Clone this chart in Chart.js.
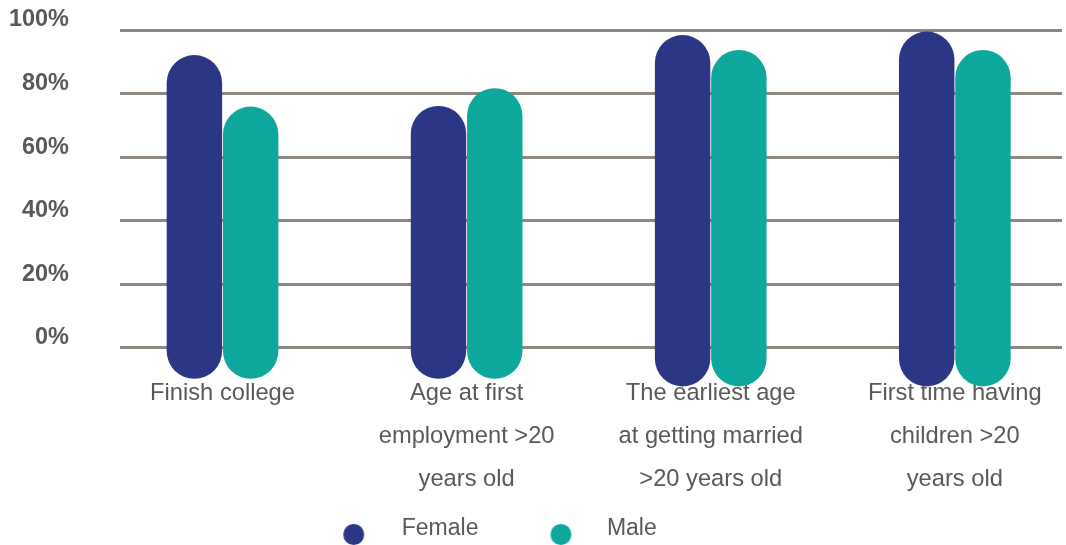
<!DOCTYPE html>
<html>
<head>
<meta charset="utf-8">
<script src="https://cdn.jsdelivr.net/npm/chart.js@4.4.1/dist/chart.umd.min.js"></script>
<style>
    html, body { margin: 0; padding: 0; background: #fff; overflow: hidden; }
    body { width: 1066px; height: 545px; position: relative; }
    /* canvas is wider than the window so the centered legend lands where it should */
    #wrap { position: absolute; left: -122px; top: 0; width: 1188px; height: 550px; }
</style>
</head>
<body>
<div id="wrap"><canvas id="chart"></canvas></div>
<script>
// Datos
const categories = [
    ['Finish college'],
    ['Age at first', 'employment >20', 'years old'],
    ['The earliest age', 'at getting married', '>20 years old'],
    ['First time having', 'children >20', 'years old']
];
const femaleTop = [92.1, 76.1, 98.4, 99.5];
const maleTop = [75.9, 81.7, 93.7, 93.7];
// the rounded bars start a bit below the 0% line
const barBase = [-9.8, -9.8, -12.2, -12.2];
const yTickValues = [0, 20, 40, 60, 80, 100];
const seriesNames = ['Female', 'Male'];

const NAVY = '#2B3784';
const TEAL = '#0EA79D';
const GRID = '#8E8780';
const TEXT = '#595959';
const FONT = "'Liberation Sans', Arial, sans-serif";

Chart.defaults.font.family = FONT;

/**
 * Marcador de leyenda: círculo desplazado dentro de un canvas pequeño
 */
function makeMarker(color, dx, dy, r) {
    const c = document.createElement('canvas');
    c.width = 2 * (Math.abs(dx) + r + 2);
    c.height = 2 * (Math.abs(dy) + r + 2);
    const g = c.getContext('2d');
    g.fillStyle = color;
    g.beginPath();
    g.arc(c.width / 2 + dx, c.height / 2 + dy, r, 0, Math.PI * 2);
    g.fill();
    return c;
}

const markers = [makeMarker(NAVY, 17, 6, 10.5), makeMarker(TEAL, 19, 6, 10.5)];

const toBars = (tops) => tops.map((v, i) => ({ x: i, y: [barBase[i], v] }));

const ctx = document.getElementById('chart').getContext('2d');
const chart = new Chart(ctx, {
    type: 'bar',
    data: {
        datasets: [
            {
                label: seriesNames[0],
                data: toBars(femaleTop),
                backgroundColor: NAVY
            },
            {
                label: seriesNames[1],
                data: toBars(maleTop),
                backgroundColor: TEAL
            }
        ]
    },
    options: {
        responsive: true,
        maintainAspectRatio: false,
        animation: false,
        layout: { padding: { left: 0, right: 4, top: 30, bottom: 0 } },
        datasets: {
            bar: {
                borderRadius: 28,
                borderSkipped: false,
                categoryPercentage: 0.461,
                barPercentage: 0.985,
                clip: false
            }
        },
        scales: {
            x: {
                type: 'linear',
                min: -0.42,
                max: 3.439,
                offset: false,
                grid: { display: false, drawTicks: false, offset: false },
                border: { display: false },
                afterBuildTicks: (scale) => {
                    scale.ticks = categories.map((c, i) => ({ value: i }));
                },
                afterFit: (scale) => { scale.height = 135.5; },
                ticks: {
                    autoSkip: false,
                    maxRotation: 0,
                    minRotation: 0,
                    padding: 0,
                    color: TEXT,
                    font: { size: 23.7, lineHeight: '43px' },
                    callback: (value) => categories[value]
                }
            },
            y: {
                min: -7.5,
                max: 100,
                z: 1,
                grid: { color: GRID, lineWidth: 3, drawTicks: false },
                border: { display: false },
                afterBuildTicks: (scale) => {
                    scale.ticks = yTickValues.map(v => ({ value: v }));
                },
                afterFit: (scale) => {
                    scale.width = 242;
                    scale.paddingTop = 0;
                    scale.paddingBottom = 0;
                },
                ticks: {
                    padding: 51,
                    labelOffset: -10,
                    color: TEXT,
                    font: { size: 23.5, weight: 'bold' },
                    callback: (value) => value + '%'
                }
            }
        },
        plugins: {
            tooltip: { enabled: false },
            legend: {
                position: 'bottom',
                labels: {
                    usePointStyle: true,
                    pointStyleWidth: 107,
                    padding: 10,
                    color: TEXT,
                    font: { size: 23 },
                    generateLabels: (ch) => {
                        const items = Chart.defaults.plugins.legend.labels.generateLabels(ch);
                        items.forEach((it, i) => { it.pointStyle = markers[i]; });
                        return items;
                    }
                }
            }
        }
    }
});
</script>
</body>
</html>
